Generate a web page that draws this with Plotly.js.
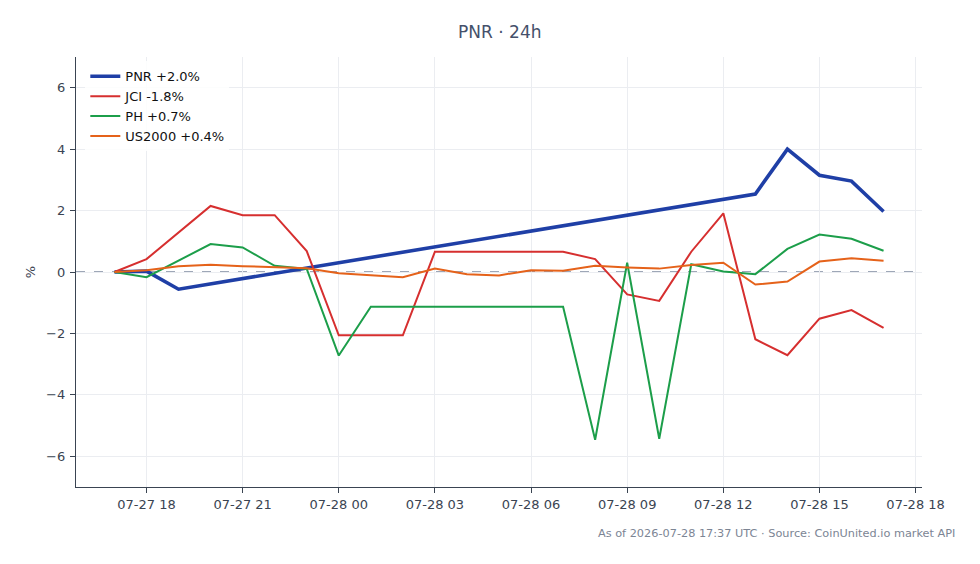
<!DOCTYPE html>
<html>
<head>
<meta charset="utf-8">
<script src="https://cdn.plot.ly/plotly-3.0.1.min.js"></script>
<style>
  html, body { margin: 0; padding: 0; background: #ffffff; }
  #chart { width: 980px; height: 564px; }
</style>
</head>
<body>
<div id="chart"></div>
<script>
// Hourly % change over the last 24h
const pnrTimes = ["2026-07-27 17:00", "2026-07-27 18:00", "2026-07-27 19:00",
  "2026-07-28 13:00", "2026-07-28 14:00", "2026-07-28 15:00", "2026-07-28 16:00", "2026-07-28 17:00"];
const pnrValues = [0, 0.03, -0.56, 2.54, 4.0, 3.15, 2.96, 1.97];

const hourTimes = ["2026-07-27 17:00", "2026-07-27 18:00", "2026-07-27 20:00", "2026-07-27 21:00",
  "2026-07-27 22:00", "2026-07-27 23:00", "2026-07-28 00:00", "2026-07-28 01:00", "2026-07-28 02:00",
  "2026-07-28 03:00", "2026-07-28 07:00", "2026-07-28 08:00", "2026-07-28 09:00", "2026-07-28 10:00",
  "2026-07-28 11:00", "2026-07-28 12:00", "2026-07-28 13:00", "2026-07-28 14:00", "2026-07-28 15:00",
  "2026-07-28 16:00", "2026-07-28 17:00"];
const jciValues = [0, 0.42, 2.15, 1.85, 1.85, 0.68, -2.06, -2.06, -2.06, 0.66, 0.66, 0.42, -0.73,
  -0.94, 0.66, 1.91, -2.19, -2.71, -1.52, -1.24, -1.82];
const phTimes = ["2026-07-27 17:00", "2026-07-27 18:00", "2026-07-27 20:00", "2026-07-27 21:00",
  "2026-07-27 22:00", "2026-07-27 23:00", "2026-07-28 00:00", "2026-07-28 01:00", "2026-07-28 07:00",
  "2026-07-28 08:00", "2026-07-28 09:00", "2026-07-28 10:00", "2026-07-28 11:00", "2026-07-28 12:00",
  "2026-07-28 13:00", "2026-07-28 14:00", "2026-07-28 15:00", "2026-07-28 16:00", "2026-07-28 17:00"];
const phValues = [0, -0.17, 0.91, 0.80, 0.2, 0.1, -2.72, -1.13, -1.13, -5.46, 0.30, -5.43, 0.25,
  0.02, -0.07, 0.75, 1.22, 1.08, 0.69];
const usTimes = ["2026-07-27 17:00", "2026-07-27 18:00", "2026-07-27 19:00", "2026-07-27 20:00",
  "2026-07-27 21:00", "2026-07-27 22:00", "2026-07-27 23:00", "2026-07-28 00:00", "2026-07-28 01:00",
  "2026-07-28 02:00", "2026-07-28 03:00", "2026-07-28 04:00", "2026-07-28 05:00", "2026-07-28 06:00",
  "2026-07-28 07:00", "2026-07-28 08:00", "2026-07-28 09:00", "2026-07-28 10:00", "2026-07-28 11:00",
  "2026-07-28 12:00", "2026-07-28 13:00", "2026-07-28 14:00", "2026-07-28 15:00", "2026-07-28 16:00",
  "2026-07-28 17:00"];
const usValues = [0, 0.06, 0.19, 0.24, 0.19, 0.15, 0.12, -0.04, -0.11, -0.17, 0.11, -0.07, -0.11,
  0.06, 0.04, 0.2, 0.15, 0.11, 0.23, 0.30, -0.41, -0.31, 0.34, 0.45, 0.37];

const seriesNames = ["PNR +2.0%", "JCI -1.8%", "PH +0.7%", "US2000 +0.4%"];
const seriesColors = ["#1f3fa6", "#d62f2f", "#1c9e4a", "#e5621a"];

const font = "DejaVu Sans, sans-serif";
const inkColor = "#3a4452";

const traces = [
  { x: pnrTimes, y: pnrValues, name: seriesNames[0], mode: "lines",
    line: { color: seriesColors[0], width: 3.6 } },
  { x: hourTimes, y: jciValues, name: seriesNames[1], mode: "lines",
    line: { color: seriesColors[1], width: 2 } },
  { x: phTimes, y: phValues, name: seriesNames[2], mode: "lines",
    line: { color: seriesColors[2], width: 2 } },
  { x: usTimes, y: usValues, name: seriesNames[3], mode: "lines",
    line: { color: seriesColors[3], width: 2 } }
];

const layout = {
  width: 980, height: 564,
  margin: { l: 76, r: 58, t: 57, b: 77 },
  paper_bgcolor: "#ffffff",
  plot_bgcolor: "#ffffff",
  font: { family: font, size: 13, color: inkColor },
  title: { text: "PNR · 24h", x: 0.51, xanchor: "center", y: 0.943, yanchor: "middle",
    font: { family: font, size: 17, color: "#44506a" } },
  showlegend: true,
  legend: { x: 0.011, y: 0.99, xanchor: "left", yanchor: "top", bgcolor: "rgba(255,255,255,0.85)",
    borderwidth: 0, font: { family: font, size: 13, color: "#111111" }, tracegroupgap: 0 },
  xaxis: {
    type: "date",
    range: ["2026-07-27 15:48", "2026-07-28 18:12"],
    tick0: "2026-07-27 18:00", dtick: 3 * 3600000,
    tickformat: "%m-%d %H",
    showgrid: true, gridcolor: "#ebedf1", gridwidth: 1,
    showline: true, linecolor: inkColor, linewidth: 1.2,
    ticks: "outside", ticklen: 5, tickcolor: inkColor,
    zeroline: false,
    tickfont: { family: font, size: 13, color: inkColor }
  },
  yaxis: {
    range: [-7, 7],
    dtick: 2, tick0: 0,
    showgrid: true, gridcolor: "#ebedf1", gridwidth: 1,
    showline: true, linecolor: inkColor, linewidth: 1.2,
    ticks: "outside", ticklen: 5, tickcolor: inkColor,
    ticklabelstandoff: 2,
    zeroline: false,
    title: { text: "%", standoff: 7, font: { family: font, size: 13, color: inkColor } },
    tickfont: { family: font, size: 13, color: inkColor }
  },
  shapes: [{
    type: "line", xref: "paper", x0: 0, x1: 1, yref: "y", y0: 0, y1: 0,
    layer: "between", line: { color: "#7f8aa0", width: 1.3, dash: "dash" }
  }],
  annotations: [{
    text: "As of 2026-07-28 17:37 UTC · Source: CoinUnited.io market API",
    xref: "paper", yref: "paper", x: 1.041, y: -0.109, xanchor: "right", yanchor: "middle",
    showarrow: false, font: { family: font, size: 11.3, color: "#7c8594" }
  }]
};

Plotly.newPlot("chart", traces, layout, { staticPlot: true, displayModeBar: false });
</script>
</body>
</html>
